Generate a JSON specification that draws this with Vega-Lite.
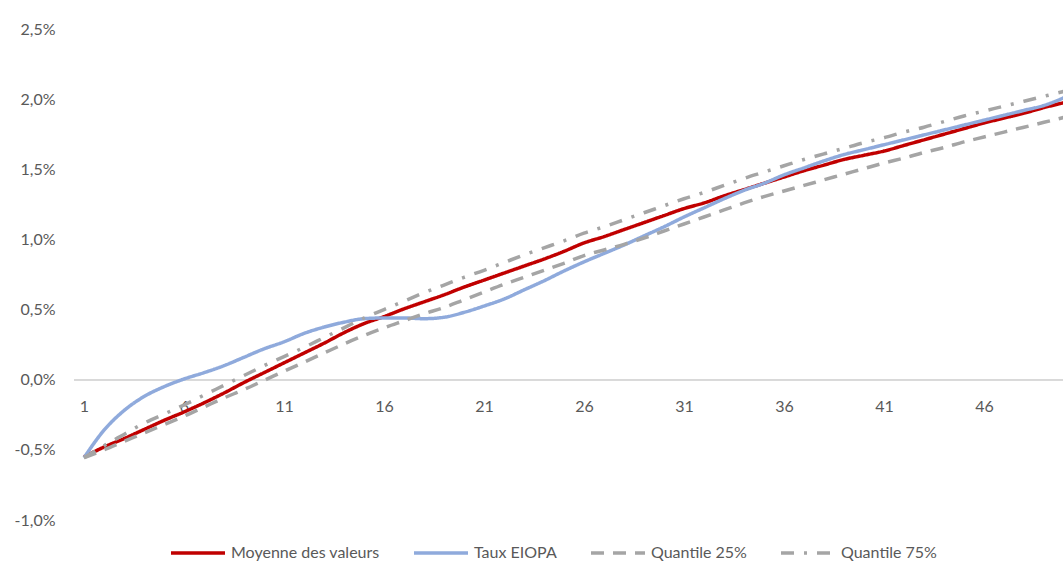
{
  "$schema": "https://vega.github.io/schema/vega-lite/v6.json",
  "autosize": {"type": "none"},
  "padding": {"left": 74, "top": 29, "right": 0, "bottom": 42},
  "width": 989,
  "height": 491,
  "background": "white",
  "config": {
    "view": {"stroke": null},
    "font": "Lato",
    "axis": {"labelFont": "Lato", "labelFontSize": 16, "labelColor": "#595959", "grid": false, "domain": false, "ticks": false, "tickSize": 0, "title": null},
    "legend": {"labelFont": "Lato", "labelFontSize": 16, "labelColor": "#595959"}
  },
  "data": {
    "values": [
      {"t": 1, "Moyenne des valeurs": -0.55, "Taux EIOPA": -0.556, "Quantile 25%": -0.556, "Quantile 75%": -0.556},
      {"t": 2, "Moyenne des valeurs": -0.48, "Taux EIOPA": -0.36, "Quantile 25%": -0.50, "Quantile 75%": -0.47},
      {"t": 3, "Moyenne des valeurs": -0.42, "Taux EIOPA": -0.22, "Quantile 25%": -0.44, "Quantile 75%": -0.39},
      {"t": 4, "Moyenne des valeurs": -0.355, "Taux EIOPA": -0.12, "Quantile 25%": -0.38, "Quantile 75%": -0.31},
      {"t": 5, "Moyenne des valeurs": -0.29, "Taux EIOPA": -0.05, "Quantile 25%": -0.32, "Quantile 75%": -0.245},
      {"t": 6, "Moyenne des valeurs": -0.23, "Taux EIOPA": 0.005, "Quantile 25%": -0.26, "Quantile 75%": -0.18},
      {"t": 7, "Moyenne des valeurs": -0.165, "Taux EIOPA": 0.05, "Quantile 25%": -0.195, "Quantile 75%": -0.11},
      {"t": 8, "Moyenne des valeurs": -0.095, "Taux EIOPA": 0.10, "Quantile 25%": -0.13, "Quantile 75%": -0.04},
      {"t": 9, "Moyenne des valeurs": -0.02, "Taux EIOPA": 0.16, "Quantile 25%": -0.07, "Quantile 75%": 0.03},
      {"t": 10, "Moyenne des valeurs": 0.05, "Taux EIOPA": 0.22, "Quantile 25%": -0.005, "Quantile 75%": 0.10},
      {"t": 11, "Moyenne des valeurs": 0.12, "Taux EIOPA": 0.27, "Quantile 25%": 0.06, "Quantile 75%": 0.165},
      {"t": 12, "Moyenne des valeurs": 0.19, "Taux EIOPA": 0.33, "Quantile 25%": 0.125, "Quantile 75%": 0.23},
      {"t": 13, "Moyenne des valeurs": 0.26, "Taux EIOPA": 0.375, "Quantile 25%": 0.19, "Quantile 75%": 0.30},
      {"t": 14, "Moyenne des valeurs": 0.335, "Taux EIOPA": 0.41, "Quantile 25%": 0.255, "Quantile 75%": 0.37},
      {"t": 15, "Moyenne des valeurs": 0.40, "Taux EIOPA": 0.435, "Quantile 25%": 0.315, "Quantile 75%": 0.44},
      {"t": 16, "Moyenne des valeurs": 0.45, "Taux EIOPA": 0.44, "Quantile 25%": 0.37, "Quantile 75%": 0.50},
      {"t": 17, "Moyenne des valeurs": 0.505, "Taux EIOPA": 0.44, "Quantile 25%": 0.42, "Quantile 75%": 0.56},
      {"t": 18, "Moyenne des valeurs": 0.555, "Taux EIOPA": 0.435, "Quantile 25%": 0.47, "Quantile 75%": 0.62},
      {"t": 19, "Moyenne des valeurs": 0.605, "Taux EIOPA": 0.445, "Quantile 25%": 0.515, "Quantile 75%": 0.675},
      {"t": 20, "Moyenne des valeurs": 0.66, "Taux EIOPA": 0.48, "Quantile 25%": 0.57, "Quantile 75%": 0.73},
      {"t": 21, "Moyenne des valeurs": 0.71, "Taux EIOPA": 0.525, "Quantile 25%": 0.625, "Quantile 75%": 0.78},
      {"t": 22, "Moyenne des valeurs": 0.76, "Taux EIOPA": 0.575, "Quantile 25%": 0.68, "Quantile 75%": 0.835},
      {"t": 23, "Moyenne des valeurs": 0.81, "Taux EIOPA": 0.64, "Quantile 25%": 0.73, "Quantile 75%": 0.89},
      {"t": 24, "Moyenne des valeurs": 0.86, "Taux EIOPA": 0.705, "Quantile 25%": 0.78, "Quantile 75%": 0.94},
      {"t": 25, "Moyenne des valeurs": 0.915, "Taux EIOPA": 0.775, "Quantile 25%": 0.83, "Quantile 75%": 0.99},
      {"t": 26, "Moyenne des valeurs": 0.975, "Taux EIOPA": 0.84, "Quantile 25%": 0.885, "Quantile 75%": 1.045},
      {"t": 27, "Moyenne des valeurs": 1.02, "Taux EIOPA": 0.90, "Quantile 25%": 0.925, "Quantile 75%": 1.09},
      {"t": 28, "Moyenne des valeurs": 1.07, "Taux EIOPA": 0.96, "Quantile 25%": 0.965, "Quantile 75%": 1.14},
      {"t": 29, "Moyenne des valeurs": 1.12, "Taux EIOPA": 1.025, "Quantile 25%": 1.01, "Quantile 75%": 1.19},
      {"t": 30, "Moyenne des valeurs": 1.17, "Taux EIOPA": 1.09, "Quantile 25%": 1.06, "Quantile 75%": 1.24},
      {"t": 31, "Moyenne des valeurs": 1.22, "Taux EIOPA": 1.16, "Quantile 25%": 1.11, "Quantile 75%": 1.29},
      {"t": 32, "Moyenne des valeurs": 1.26, "Taux EIOPA": 1.225, "Quantile 25%": 1.16, "Quantile 75%": 1.335},
      {"t": 33, "Moyenne des valeurs": 1.31, "Taux EIOPA": 1.29, "Quantile 25%": 1.21, "Quantile 75%": 1.385},
      {"t": 34, "Moyenne des valeurs": 1.355, "Taux EIOPA": 1.35, "Quantile 25%": 1.26, "Quantile 75%": 1.435},
      {"t": 35, "Moyenne des valeurs": 1.40, "Taux EIOPA": 1.40, "Quantile 25%": 1.305, "Quantile 75%": 1.48},
      {"t": 36, "Moyenne des valeurs": 1.445, "Taux EIOPA": 1.46, "Quantile 25%": 1.345, "Quantile 75%": 1.525},
      {"t": 37, "Moyenne des valeurs": 1.49, "Taux EIOPA": 1.51, "Quantile 25%": 1.385, "Quantile 75%": 1.57},
      {"t": 38, "Moyenne des valeurs": 1.53, "Taux EIOPA": 1.56, "Quantile 25%": 1.425, "Quantile 75%": 1.61},
      {"t": 39, "Moyenne des valeurs": 1.57, "Taux EIOPA": 1.605, "Quantile 25%": 1.465, "Quantile 75%": 1.65},
      {"t": 40, "Moyenne des valeurs": 1.60, "Taux EIOPA": 1.64, "Quantile 25%": 1.505, "Quantile 75%": 1.69},
      {"t": 41, "Moyenne des valeurs": 1.63, "Taux EIOPA": 1.675, "Quantile 25%": 1.545, "Quantile 75%": 1.725},
      {"t": 42, "Moyenne des valeurs": 1.67, "Taux EIOPA": 1.71, "Quantile 25%": 1.58, "Quantile 75%": 1.765},
      {"t": 43, "Moyenne des valeurs": 1.71, "Taux EIOPA": 1.745, "Quantile 25%": 1.62, "Quantile 75%": 1.80},
      {"t": 44, "Moyenne des valeurs": 1.75, "Taux EIOPA": 1.78, "Quantile 25%": 1.655, "Quantile 75%": 1.84},
      {"t": 45, "Moyenne des valeurs": 1.79, "Taux EIOPA": 1.815, "Quantile 25%": 1.695, "Quantile 75%": 1.88},
      {"t": 46, "Moyenne des valeurs": 1.83, "Taux EIOPA": 1.85, "Quantile 25%": 1.73, "Quantile 75%": 1.915},
      {"t": 47, "Moyenne des valeurs": 1.865, "Taux EIOPA": 1.885, "Quantile 25%": 1.765, "Quantile 75%": 1.95},
      {"t": 48, "Moyenne des valeurs": 1.90, "Taux EIOPA": 1.92, "Quantile 25%": 1.80, "Quantile 75%": 1.985},
      {"t": 49, "Moyenne des valeurs": 1.94, "Taux EIOPA": 1.955, "Quantile 25%": 1.835, "Quantile 75%": 2.02},
      {"t": 50, "Moyenne des valeurs": 1.975, "Taux EIOPA": 2.01, "Quantile 25%": 1.87, "Quantile 75%": 2.055}
    ]
  },
  "layer": [
    {
      "mark": {"type": "rule", "color": "#D9D9D9", "strokeWidth": 1.5},
      "encoding": {
        "y": {"datum": 0, "type": "quantitative", "scale": {"domain": [-1, 2.5], "nice": false, "zero": false}}
      }
    },
    {
      "transform": [
        {"fold": ["Moyenne des valeurs", "Taux EIOPA", "Quantile 25%", "Quantile 75%"], "as": ["serie", "valeur"]}
      ],
      "mark": {"type": "line", "strokeWidth": 3.5, "clip": true, "interpolate": "monotone"},
      "encoding": {
        "x": {
          "field": "t", "type": "quantitative",
          "scale": {"domain": [0.5, 49.95], "nice": false, "zero": false},
          "axis": {"values": [1, 6, 11, 16, 21, 26, 31, 36, 41, 46], "format": "d", "offset": -140, "labelPadding": 18, "labelFlush": false}
        },
        "y": {
          "field": "valeur", "type": "quantitative",
          "scale": {"domain": [-1, 2.5], "nice": false, "zero": false},
          "axis": {"values": [-1, -0.5, 0, 0.5, 1, 1.5, 2, 2.5], "labelPadding": 19, "labelFlush": false,
                   "labelExpr": "replace(replace(format(datum.value, '.1f'), '.', ','), '\u2212', '-') + '%'"}
        },
        "color": {
          "field": "serie", "type": "nominal",
          "scale": {"domain": ["Moyenne des valeurs", "Taux EIOPA", "Quantile 25%", "Quantile 75%"], "range": ["#C00000", "#8FAADC", "#A5A5A5", "#A5A5A5"]},
          "legend": {"title": null, "orient": "none", "legendX": 95, "legendY": 495, "direction": "horizontal", "columns": 4, "symbolType": "stroke", "symbolSize": 2916, "symbolStrokeWidth": 3.5, "labelOffset": 4, "columnPadding": 27}
        },
        "strokeDash": {
          "field": "serie", "type": "nominal",
          "scale": {"domain": ["Moyenne des valeurs", "Taux EIOPA", "Quantile 25%", "Quantile 75%"], "range": [[1, 0], [1, 0], [13, 9], [13, 10, 3, 10]]},
          "legend": {"title": null, "orient": "none", "legendX": 95, "legendY": 495, "direction": "horizontal", "columns": 4, "symbolType": "stroke", "symbolSize": 2916, "symbolStrokeWidth": 3.5, "labelOffset": 4, "columnPadding": 27}
        },
        "order": {"field": "t", "type": "quantitative"}
      }
    }
  ]
}
